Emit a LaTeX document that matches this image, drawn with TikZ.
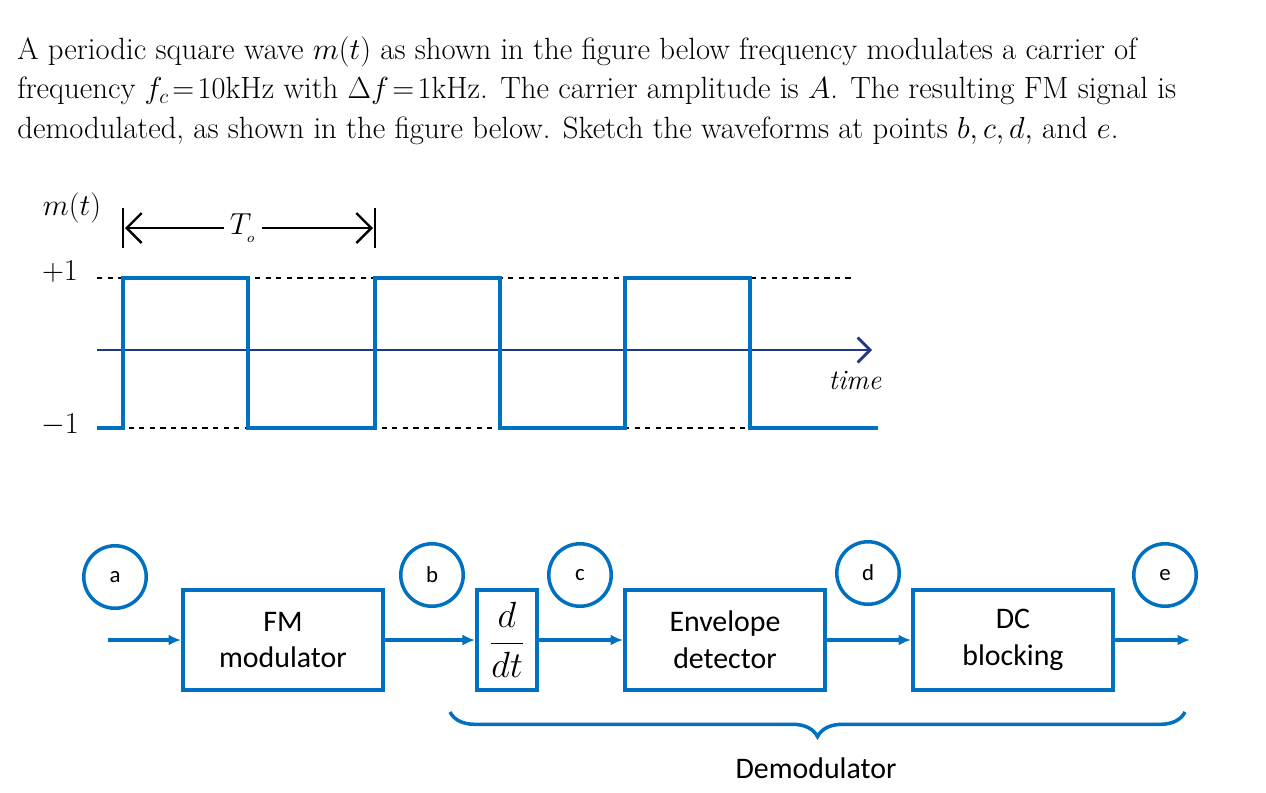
\documentclass[tikz,border=0pt]{standalone}
\usepackage{amsmath}
\usepackage{fontspec}
\setsansfont{Carlito}
\usetikzlibrary{positioning,arrows.meta,decorations.pathreplacing}
\definecolor{wblue}{RGB}{0,112,192}
\definecolor{axblue}{RGB}{31,56,130}
\begin{document}
\begin{tikzpicture}[x=0.02cm,y=-0.02cm,
    block/.style={rectangle, draw=wblue, line width=2.3pt, minimum width=4cm, minimum height=2cm, align=center, font=\sffamily\fontsize{17}{21}\selectfont},
    pt/.style={circle, draw=wblue, line width=2pt, minimum size=1.25cm, inner sep=0pt, font=\sffamily\fontsize{13}{15}\selectfont},
    sig/.style={draw=wblue, line width=1.8pt, -{Latex[length=2.5mm,width=2.2mm]}},
    lvl/.style={dashed, line width=0.8pt}
  ]
  \useasboundingbox (0,0) rectangle (1266,792);
  % problem statement
  \node (text) [anchor=north west, align=left, inner sep=0pt, font=\fontsize{17.5}{22.7}\selectfont] at (17,36)
    {A periodic square wave $m(t)$ as shown in the figure below frequency modulates a carrier of\\
     frequency $f_c\!=\!10$kHz with $\Delta f\!=\!1$kHz. The carrier amplitude is $A$. The resulting FM signal is\\
     demodulated, as shown in the figure below. Sketch the waveforms at points $b,c,d,$ and $e$.};
  % waveform
  \coordinate (ax0) at (97,350);
  \coordinate (ax1) at (872,350);
  \draw[lvl] (97,278) -- (855,278);
  \draw[lvl] (97,428) -- (750,428);
  \draw[axblue, line width=1.6pt, -{Straight Barb[length=2.5mm]}] (ax0) -- (ax1);
  \draw[wblue, line width=2.6pt] (97,428) -- (123,428) -- (123,278) -- (248,278) -- (248,428) -- (375,428) -- (375,278) -- (500,278) -- (500,428) -- (625,428) -- (625,278) -- (750,278) -- (750,428) -- (878,428);
  \node (mt) at (72,208) {\fontsize{16}{18}\selectfont$m(t)$};
  \node (pone) at (60,272) {\fontsize{16}{18}\selectfont$+1$};
  \node (mone) at (60,425) {\fontsize{16}{18}\selectfont$-1$};
  \node (time) at (855,380) {\fontsize{16}{18}\selectfont\itshape time};
  \node (To) at (243,228) {\fontsize{16}{18}\selectfont$T_{_o}$};
  \draw[line width=1.6pt] (123,208) -- (123,248);
  \draw[line width=1.6pt] (375,208) -- (375,248);
  \draw[line width=1.4pt, -{Straight Barb[length=3mm]}] (To.west) -- (125,228);
  \draw[line width=1.4pt, -{Straight Barb[length=3mm]}] (To.east) -- (373,228);
  % block diagram
  \node (fm) [block] at (283,640) {FM\\modulator};
  \node (ddt) [block, minimum width=1.2cm] at (507,640) {\fontsize{20}{22}\selectfont$\dfrac{d}{dt}$};
  \node (env) [block] at (725,640) {Envelope\\detector};
  \node (dc) [block] at (1013,640) {DC\\blocking};
  \coordinate (in) at (108,640);
  \coordinate (out) at (1190,640);
  \draw[sig] (in) -- (fm);
  \draw[sig] (fm) -- (ddt);
  \draw[sig] (ddt) -- (env);
  \draw[sig] (env) -- (dc);
  \draw[sig] (dc) -- (out);
  \node (pa) [pt] at (115,577) {a};
  \node (pb) [pt] at (432,575) {b};
  \node (pc) [pt] at (580,575) {c};
  \node (pd) [pt] at (868,573) {d};
  \node (pe) [pt] at (1165,575) {e};
  \draw[wblue, line width=2pt, decorate, decoration={brace, mirror, amplitude=14pt}] (450,712) -- (1185,712);
  \node (demod) at (816,768) {\sffamily\fontsize{17}{20}\selectfont Demodulator};
\end{tikzpicture}
\end{document}
